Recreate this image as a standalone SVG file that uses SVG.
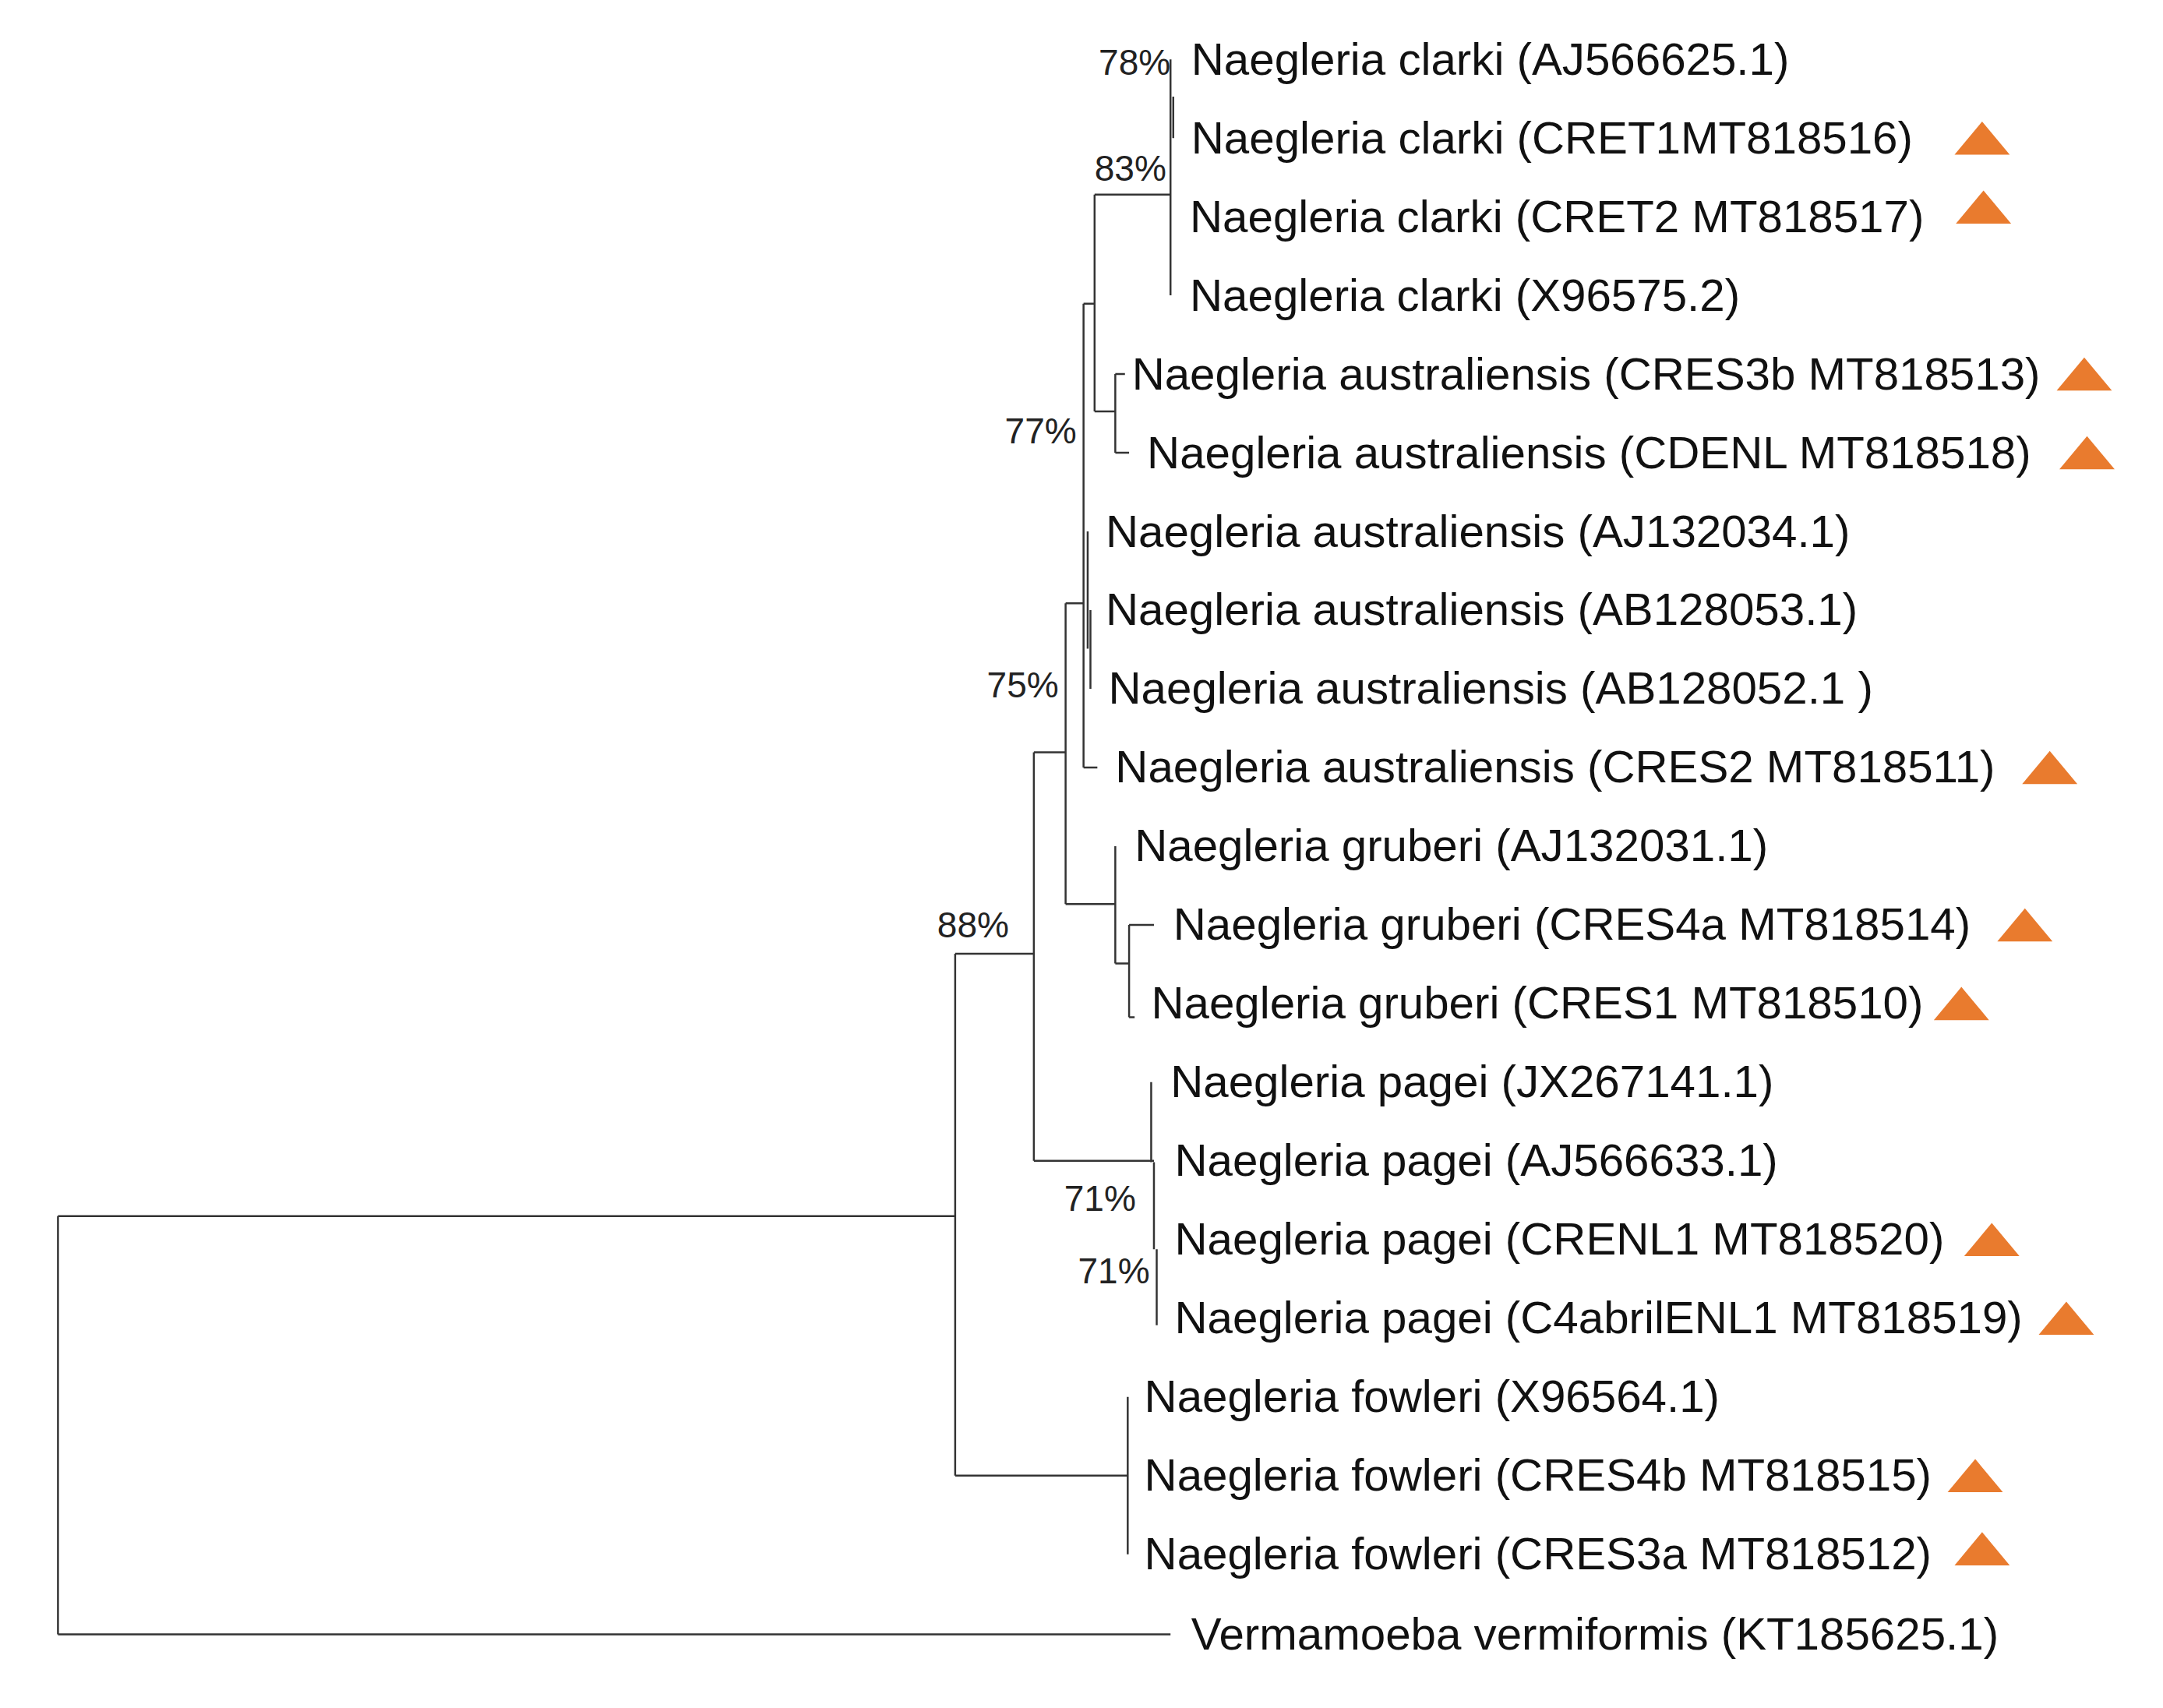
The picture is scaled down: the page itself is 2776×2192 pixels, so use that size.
<svg xmlns="http://www.w3.org/2000/svg" width="2776" height="2192" viewBox="0 0 2776 2192">
<style>
.t{font-family:"Liberation Sans",Arial,sans-serif;font-size:32.9px;fill:#111}
.b{font-family:"Liberation Sans",Arial,sans-serif;font-size:26px;fill:#222;text-anchor:end}
.e{stroke:#333;stroke-width:1.4;fill:none}
.m{fill:#E97B2E}
</style>
<rect width="2776" height="2192" fill="#fff"/>
<g transform="scale(1.7715)">
<g id="connectors">
<path class="e" d="M42,881V1184M42,881H692M42,1184H848"/>
<path class="e" d="M692,691V1069M692,691H749M692,1069H817M817,1012V1126"/>
<path class="e" d="M749,545V841M749,545H772M749,841H836"/>
<path class="e" d="M834,784V842M836,842V905M838,905V960"/>
<path class="e" d="M772,437V655M772,437H785M772,655H808"/>
<path class="e" d="M808,613V698M808,698H818M818,670V737M818,670H836M818,737H822"/>
<path class="e" d="M785,220V556M785,556H795M788,385V470M790,442V499"/>
<path class="e" d="M785,220H793M793,141V298M793,141H848M793,298H808"/>
<path class="e" d="M808,271V328M808,271H815M808,328H818"/>
<path class="e" d="M848,43V214M850,70V100" />
</g>
<g id="bootstrap">
<text class="b" x="848" y="54">78%</text>
<text class="b" x="845" y="131">83%</text>
<text class="b" x="780" y="321">77%</text>
<text class="b" x="767" y="505">75%</text>
<text class="b" x="731" y="679">88%</text>
<text class="b" x="823" y="877">71%</text>
<text class="b" x="833" y="930">71%</text>
</g>
<g id="n1"><text class="t" x="863" y="54">Naegleria clarki (AJ566625.1)</text></g>
<g id="n2"><text class="t" x="863" y="111">Naegleria clarki (CRET1MT818516)</text><path class="m" d="M1416,112L1436,88L1456,112Z"/></g>
<g id="n3"><text class="t" x="862" y="168">Naegleria clarki (CRET2 MT818517)</text><path class="m" d="M1417,162L1437,138L1457,162Z"/></g>
<g id="n4"><text class="t" x="862" y="225">Naegleria clarki (X96575.2)</text></g>
<g id="n5"><text class="t" x="820" y="282">Naegleria australiensis (CRES3b MT818513)</text><path class="m" d="M1490,283L1510,259L1530,283Z"/></g>
<g id="n6"><text class="t" x="831" y="339">Naegleria australiensis (CDENL MT818518)</text><path class="m" d="M1492,340L1512,316L1532,340Z"/></g>
<g id="n7"><text class="t" x="801" y="396">Naegleria australiensis (AJ132034.1)</text></g>
<g id="n8"><text class="t" x="801" y="453">Naegleria australiensis (AB128053.1)</text></g>
<g id="n9"><text class="t" x="803" y="510">Naegleria australiensis (AB128052.1 )</text></g>
<g id="n10"><text class="t" x="808" y="567">Naegleria australiensis (CRES2 MT818511)</text><path class="m" d="M1465,568L1485,544L1505,568Z"/></g>
<g id="n11"><text class="t" x="822" y="624">Naegleria gruberi (AJ132031.1)</text></g>
<g id="n12"><text class="t" x="850" y="681">Naegleria gruberi (CRES4a MT818514)</text><path class="m" d="M1447,682L1467,658L1487,682Z"/></g>
<g id="n13"><text class="t" x="834" y="738">Naegleria gruberi (CRES1 MT818510)</text><path class="m" d="M1401,739L1421,715L1441,739Z"/></g>
<g id="n14"><text class="t" x="848" y="795">Naegleria pagei (JX267141.1)</text></g>
<g id="n15"><text class="t" x="851" y="852">Naegleria pagei (AJ566633.1)</text></g>
<g id="n16"><text class="t" x="851" y="909">Naegleria pagei (CRENL1 MT818520)</text><path class="m" d="M1423,910L1443,886L1463,910Z"/></g>
<g id="n17"><text class="t" x="851" y="966">Naegleria pagei (C4abrilENL1 MT818519)</text><path class="m" d="M1477,967L1497,943L1517,967Z"/></g>
<g id="n18"><text class="t" x="829" y="1023">Naegleria fowleri (X96564.1)</text></g>
<g id="n19"><text class="t" x="829" y="1080">Naegleria fowleri (CRES4b MT818515)</text><path class="m" d="M1411,1081L1431,1057L1451,1081Z"/></g>
<g id="n20"><text class="t" x="829" y="1137">Naegleria fowleri (CRES3a MT818512)</text><path class="m" d="M1416,1134L1436,1110L1456,1134Z"/></g>
<g id="n21"><text class="t" x="863" y="1195">Vermamoeba vermiformis (KT185625.1)</text></g>
</g>
</svg>
